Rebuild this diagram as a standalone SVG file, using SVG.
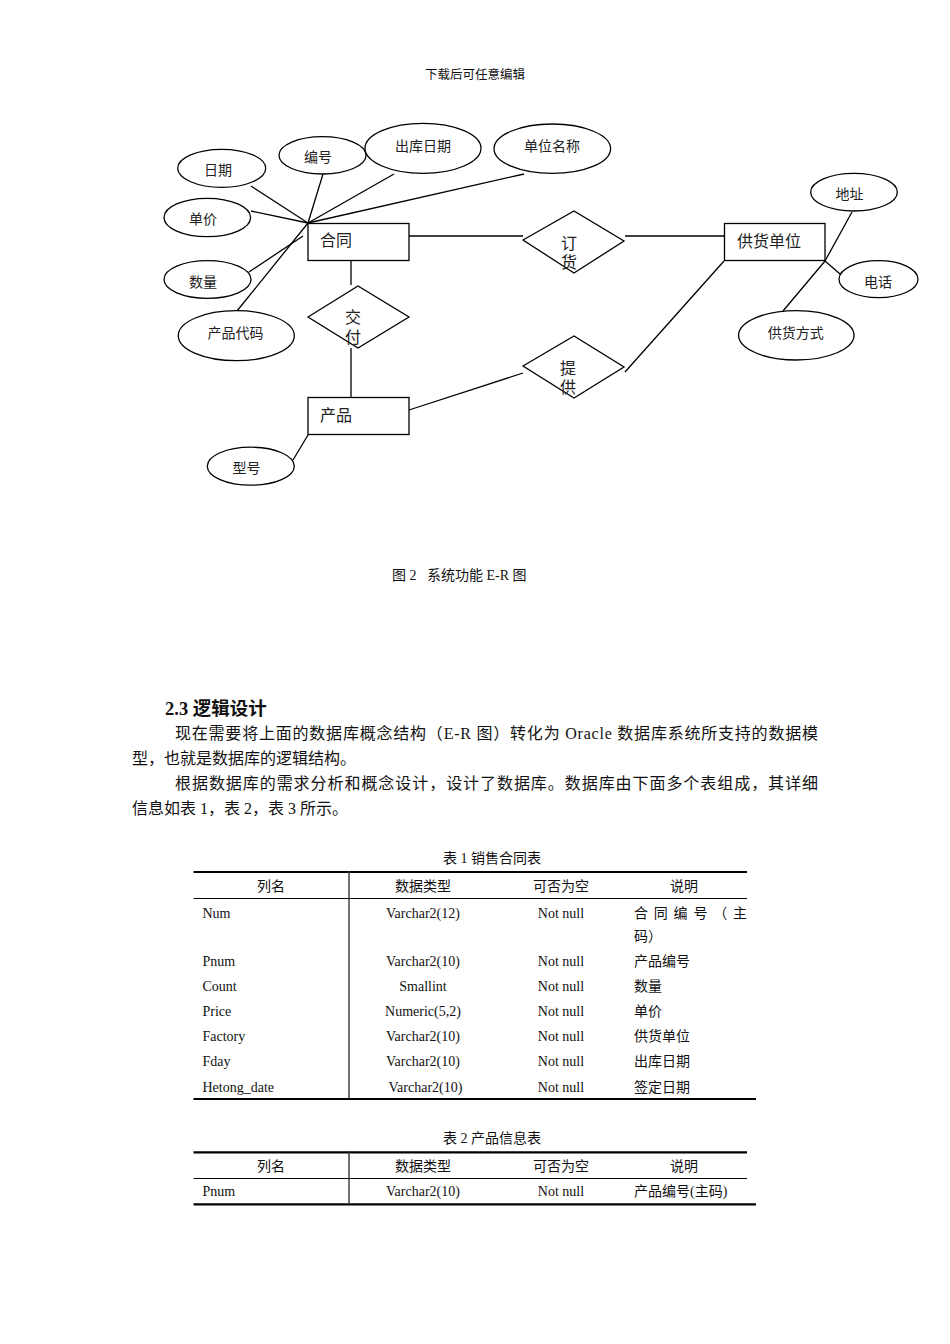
<svg xmlns="http://www.w3.org/2000/svg" width="950" height="1344" viewBox="0 0 950 1344">
<style>
.bg{fill:#fff}
.sh{fill:#fff;stroke:#000;stroke-width:1.3}
.ln{stroke:#000;stroke-width:1.3;fill:none}
.er{font-family:"Noto Sans CJK SC","Liberation Sans",sans-serif;fill:#222}
.dv{font-family:"Liberation Serif","Noto Sans CJK SC",sans-serif;fill:#222}
.t14{font-size:14px}
.t16{font-size:16px}
.tx{font-family:"Liberation Serif","Noto Sans CJK SC",serif;fill:#111}
.mid{text-anchor:middle}
.thick{stroke:#000;stroke-width:2.2}
.thin{stroke:#000;stroke-width:1}
.vl{stroke:#333;stroke-width:1.4}
</style>
<rect class="bg" x="0" y="0" width="950" height="1344"/>
<text class="tx mid" x="475" y="78.5" font-size="12.5">下载后可任意编辑</text>

<g id="connectors">
<line class="ln" x1="251" y1="186" x2="308" y2="223"/>
<line class="ln" x1="323" y1="174" x2="308" y2="223"/>
<line class="ln" x1="394" y1="174" x2="308" y2="223"/>
<line class="ln" x1="524" y1="174" x2="308" y2="223"/>
<line class="ln" x1="251" y1="211" x2="308" y2="223"/>
<line class="ln" x1="249" y1="272" x2="303" y2="236"/>
<line class="ln" x1="237" y1="311" x2="308" y2="223"/>
<line class="ln" x1="409" y1="236" x2="523" y2="236"/>
<line class="ln" x1="625" y1="236" x2="724" y2="236"/>
<line class="ln" x1="351" y1="261" x2="351" y2="285"/>
<line class="ln" x1="351" y1="348" x2="351" y2="397"/>
<line class="ln" x1="409" y1="410" x2="523" y2="373"/>
<line class="ln" x1="625" y1="372" x2="724" y2="261"/>
<line class="ln" x1="308" y1="435" x2="293" y2="460"/>
<line class="ln" x1="852" y1="212" x2="825" y2="261"/>
<line class="ln" x1="825" y1="261" x2="783" y2="311"/>
<line class="ln" x1="825" y1="261" x2="840" y2="274"/>
</g>

<g id="hetong">
<rect class="sh" x="308" y="223.5" width="101" height="37"/>
<text class="er t16" x="320" y="246">合同</text>
</g>
<g id="chanpin">
<rect class="sh" x="308" y="397.5" width="101" height="37"/>
<text class="er t16" x="320" y="421">产品</text>
</g>
<g id="gonghuodanwei">
<rect class="sh" x="724.5" y="223.5" width="100.5" height="37"/>
<text class="er t16" x="737" y="247">供货单位</text>
</g>

<g id="dinghuo">
<polygon class="sh" points="523,240 574,211 624,241 574,273"/>
<text class="dv t16 mid" x="569" y="249">订</text>
<text class="dv t16 mid" x="569" y="268">货</text>
</g>
<g id="jiaofu">
<polygon class="sh" points="308,317 358,286 409,317 358,348"/>
<text class="dv t16 mid" x="353" y="323">交</text>
<text class="dv t16 mid" x="353" y="343">付</text>
</g>
<g id="tigong">
<polygon class="sh" points="523,366 574,336 624,367 574,398"/>
<text class="dv t16 mid" x="568" y="374">提</text>
<text class="dv t16 mid" x="568" y="392.5">供</text>
</g>

<g id="riqi">
<ellipse class="sh" cx="221.7" cy="168.3" rx="44" ry="19"/>
<text class="er t14 mid" x="218" y="175">日期</text>
</g>
<g id="bianhao">
<ellipse class="sh" cx="322.5" cy="155.3" rx="43.5" ry="18.7"/>
<text class="er t14 mid" x="318" y="162">编号</text>
</g>
<g id="chukuriqi">
<ellipse class="sh" cx="423" cy="148.3" rx="58" ry="25"/>
<text class="er t14 mid" x="423" y="151">出库日期</text>
</g>
<g id="danweimingcheng">
<ellipse class="sh" cx="552.3" cy="148.7" rx="58.3" ry="24.7"/>
<text class="er t14 mid" x="552" y="151">单位名称</text>
</g>
<g id="danjia">
<ellipse class="sh" cx="207.3" cy="217.5" rx="43.3" ry="19.2"/>
<text class="er t14 mid" x="203" y="224">单价</text>
</g>
<g id="shuliang">
<ellipse class="sh" cx="207.5" cy="279.5" rx="43.5" ry="18.8"/>
<text class="er t14 mid" x="203" y="287">数量</text>
</g>
<g id="chanpindaima">
<ellipse class="sh" cx="236.3" cy="335.7" rx="58" ry="25"/>
<text class="er t14 mid" x="235.5" y="338">产品代码</text>
</g>
<g id="xinghao">
<ellipse class="sh" cx="250.8" cy="466.2" rx="43.5" ry="19"/>
<text class="er t14 mid" x="246.5" y="473">型号</text>
</g>
<g id="dizhi">
<ellipse class="sh" cx="854" cy="192.2" rx="43.3" ry="18.8"/>
<text class="er t14 mid" x="849.5" y="199">地址</text>
</g>
<g id="dianhua">
<ellipse class="sh" cx="878.5" cy="279.2" rx="39.5" ry="18.5"/>
<text class="er t14 mid" x="878" y="287">电话</text>
</g>
<g id="gonghuofangshi">
<ellipse class="sh" cx="796.3" cy="335.3" rx="57.7" ry="24.7"/>
<text class="er t14 mid" x="795.7" y="338">供货方式</text>
</g>

<text class="tx" x="392" y="580" font-size="14" xml:space="preserve">图 2   系统功能 E-R 图</text>

<text class="tx" x="165" y="715" font-size="18.5" font-weight="bold">2.3 逻辑设计</text>
<text class="tx" x="175" y="739" font-size="16" textLength="643" lengthAdjust="spacing">现在需要将上面的数据库概念结构（E-R 图）转化为 Oracle 数据库系统所支持的数据模</text>
<text class="tx" x="132" y="764" font-size="16">型，也就是数据库的逻辑结构。</text>
<text class="tx" x="175" y="789" font-size="16" textLength="643" lengthAdjust="spacing">根据数据库的需求分析和概念设计，设计了数据库。数据库由下面多个表组成，其详细</text>
<text class="tx" x="132" y="814" font-size="16">信息如表 1，表 2，表 3 所示。</text>

<g id="table1" class="tx" font-size="14">
<text class="mid" x="492" y="863">表 1 销售合同表</text>
<line class="thick" x1="193.5" y1="872" x2="747" y2="872"/>
<line class="thin" x1="193.5" y1="898.5" x2="747" y2="898.5"/>
<line class="thick" x1="193.5" y1="1099" x2="756" y2="1099"/>
<line class="vl" x1="349" y1="871" x2="349" y2="1098"/>
<text class="mid" x="271" y="891">列名</text>
<text class="mid" x="423" y="891">数据类型</text>
<text class="mid" x="561" y="891">可否为空</text>
<text class="mid" x="684" y="891">说明</text>
<text x="202.5" y="918">Num</text>
<text class="mid" x="423" y="918">Varchar2(12)</text>
<text class="mid" x="561" y="918">Not null</text>
<text x="634" y="918" textLength="113" lengthAdjust="spacing">合同编号（主</text>
<text x="634" y="941">码）</text>
<text x="202.5" y="966">Pnum</text>
<text class="mid" x="423" y="966">Varchar2(10)</text>
<text class="mid" x="561" y="966">Not null</text>
<text x="634" y="966">产品编号</text>
<text x="202.5" y="991">Count</text>
<text class="mid" x="423" y="991">Smallint</text>
<text class="mid" x="561" y="991">Not null</text>
<text x="634" y="991">数量</text>
<text x="202.5" y="1016">Price</text>
<text class="mid" x="423" y="1016">Numeric(5,2)</text>
<text class="mid" x="561" y="1016">Not null</text>
<text x="634" y="1016">单价</text>
<text x="202.5" y="1041">Factory</text>
<text class="mid" x="423" y="1041">Varchar2(10)</text>
<text class="mid" x="561" y="1041">Not null</text>
<text x="634" y="1041">供货单位</text>
<text x="202.5" y="1066">Fday</text>
<text class="mid" x="423" y="1066">Varchar2(10)</text>
<text class="mid" x="561" y="1066">Not null</text>
<text x="634" y="1066">出库日期</text>
<text x="202.5" y="1092">Hetong_date</text>
<text class="mid" x="425.5" y="1092">Varchar2(10)</text>
<text class="mid" x="561" y="1092">Not null</text>
<text x="634" y="1092">签定日期</text>
</g>

<g id="table2" class="tx" font-size="14">
<text class="mid" x="492" y="1143">表 2 产品信息表</text>
<line class="thick" x1="193.5" y1="1152.3" x2="747" y2="1152.3"/>
<line class="thin" x1="193.5" y1="1178.5" x2="747" y2="1178.5"/>
<line class="thick" x1="193.5" y1="1204.3" x2="756" y2="1204.3"/>
<line class="vl" x1="349" y1="1151" x2="349" y2="1203"/>
<text class="mid" x="271" y="1171">列名</text>
<text class="mid" x="423" y="1171">数据类型</text>
<text class="mid" x="561" y="1171">可否为空</text>
<text class="mid" x="684" y="1171">说明</text>
<text x="202.5" y="1196">Pnum</text>
<text class="mid" x="423" y="1196">Varchar2(10)</text>
<text class="mid" x="561" y="1196">Not null</text>
<text x="634" y="1196">产品编号(主码)</text>
</g>
</svg>
